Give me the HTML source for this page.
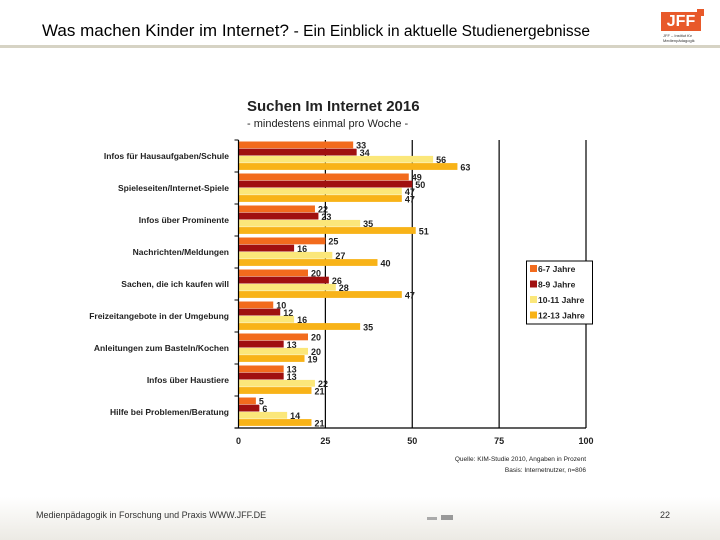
<!DOCTYPE html>
<html><head><meta charset="utf-8"><style>
body{margin:0;width:720px;height:540px;overflow:hidden;background:#fff;font-family:"Liberation Sans",sans-serif;position:relative}
.abs{position:absolute}
</style></head><body>
<div class="abs" style="left:42px;top:21px;font-size:17px;color:#000;white-space:nowrap">Was machen Kinder im Internet? <span style="font-size:15.5px">- Ein Einblick in aktuelle Studienergebnisse</span></div>
<div class="abs" style="left:0;top:45px;width:720px;height:3px;background:#d6d3c4"></div>
<div class="abs" style="left:661px;top:12px;width:40px;height:19px;background:#e8592a;color:#fff;font-weight:bold;font-size:16px;line-height:19px;text-align:center">JFF</div>
<div class="abs" style="left:697px;top:9px;width:7px;height:7px;background:#e8592a"></div>
<div class="abs" style="left:663px;top:33px;font-size:4px;line-height:5px;color:#333">JFF – Institut für<br>Medienpädagogik</div>
<div class="abs" style="left:0;top:497px;width:720px;height:43px;background:linear-gradient(#fff,#eceae4)"></div>
<div class="abs" style="left:36px;top:510px;font-size:9px;color:#333">Medienpädagogik in Forschung und Praxis WWW.JFF.DE</div>
<div class="abs" style="left:660px;top:510px;font-size:9px;color:#333">22</div>
<div class="abs" style="left:427px;top:517px;width:10px;height:3px;background:#aaa"></div>
<div class="abs" style="left:441px;top:515px;width:12px;height:5px;background:#999"></div>
<svg class="abs" style="left:0;top:0" width="720" height="540" id="chart"></svg>
<script>
const categories=["Infos für Hausaufgaben/Schule","Spieleseiten/Internet-Spiele","Infos über Prominente","Nachrichten/Meldungen","Sachen, die ich kaufen will","Freizeitangebote in der Umgebung","Anleitungen zum Basteln/Kochen","Infos über Haustiere","Hilfe bei Problemen/Beratung"];
const seriesNames=["6-7 Jahre","8-9 Jahre","10-11 Jahre","12-13 Jahre"];
const s67=[33,49,22,25,20,10,20,13,5];
const s89=[34,50,23,16,26,12,13,13,6];
const s1011=[56,47,35,27,28,16,20,22,14];
const s1213=[63,47,51,40,47,35,19,21,21];
const ticks=[0,25,50,75,100];
const series=[s67,s89,s1011,s1213];
const colors=["#f26b1d","#a01010","#fbe77a","#f8b318"];
const svg=document.getElementById('chart');const NS="http://www.w3.org/2000/svg";
function el(t,a,p){const e=document.createElementNS(NS,t);for(const k in a)e.setAttribute(k,a[k]);(p||svg).appendChild(e);return e;}
const x0=238.5,x1=586,yTop=140,yBot=428;
const xs=v=>x0+(x1-x0)*v/100;
const gh=(yBot-yTop)/categories.length;
let t=el('text',{x:247,y:111,'font-size':15,'font-weight':'bold',fill:'#222'});t.textContent="Suchen Im Internet 2016";


t=el('text',{x:247,y:127,'font-size':11,fill:'#222'});t.textContent="- mindestens einmal pro Woche -";


ticks.forEach(v=>{
 if(v>0){const l=el('line',{x1:xs(v),x2:xs(v),y1:yTop,y2:yBot,stroke:'#000','stroke-width':1.2});
 
 }
 const tx=el('text',{x:xs(v),y:yBot+16,'font-size':9,'font-weight':'bold','text-anchor':'middle',fill:'#222'});tx.textContent=v;
 
 
});
categories.forEach((c,i)=>{
 const gy=yTop+i*gh;
 const tk=el('line',{x1:x0-4,x2:x0,y1:gy,y2:gy,stroke:'#000'});
 
 
 const lb=el('text',{x:229,y:gy+gh*0.5+3,'font-size':8.5,'font-weight':'bold','text-anchor':'end',fill:'#222'});lb.textContent=c;
 
 
 series.forEach((s,j)=>{
  const bh=7.2,by=gy+1.5+j*bh;
  const r=el('rect',{x:x0,y:by,width:xs(s[i])-x0,height:bh-0.4,fill:colors[j]});
  
  
  const v=el('text',{x:xs(s[i])+3,y:by+bh,'font-size':9,'font-weight':'bold',fill:'#222'});v.textContent=s[i];
  
  
 });
});
let a=el('line',{x1:x0,x2:x0,y1:yTop,y2:yBot,stroke:'#000','stroke-width':1.2});


a=el('line',{x1:x0-4,x2:x1,y1:yBot,y2:yBot,stroke:'#000','stroke-width':1.2});


const lg=el('rect',{x:526.5,y:261,width:66,height:63,fill:'#fff',stroke:'#000'});


seriesNames.forEach((n,j)=>{
 const y=265+j*15.5;
 const sw=el('rect',{x:530,y:y,width:7,height:7,fill:colors[j]});
 
 
 const tx=el('text',{x:538,y:y+7,'font-size':8.5,'font-weight':'bold',fill:'#222'});tx.textContent=n;
 
 
});
t=el('text',{x:586,y:461,'font-size':6.5,'text-anchor':'end',fill:'#222'});t.textContent="Quelle: KIM-Studie 2010, Angaben in Prozent";


t=el('text',{x:586,y:472,'font-size':6.5,'text-anchor':'end',fill:'#222'});t.textContent="Basis: Internetnutzer, n=806";


</script>
</body></html>
